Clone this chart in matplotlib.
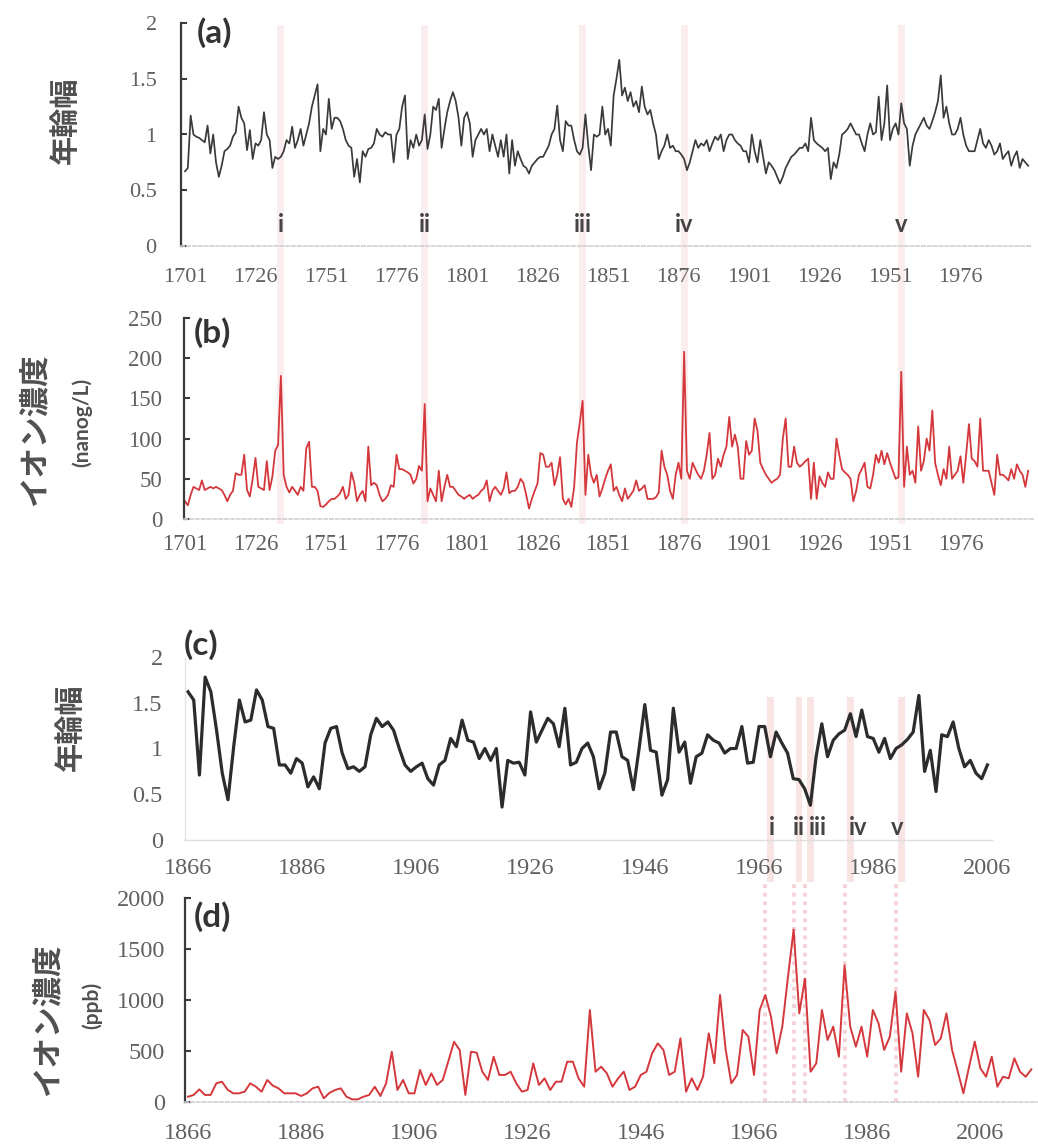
import numpy as np
import matplotlib
matplotlib.use("Agg")
import matplotlib.pyplot as plt

W, H = 1038, 1146

# ---- data ----
years_ab = np.arange(1701, 2001)
ring_ab = [
    0.67, 0.70, 1.17, 1.00, 0.98, 0.97, 0.95, 0.93, 1.08, 0.83,
    1.00, 0.75, 0.62, 0.72, 0.85, 0.87, 0.90, 0.98, 1.02, 1.25,
    1.15, 1.10, 0.86, 1.04, 0.78, 0.92, 0.90, 0.95, 1.20, 1.00,
    0.95, 0.70, 0.80, 0.78, 0.80, 0.85, 0.95, 0.92, 1.07, 0.88,
    0.95, 1.05, 0.90, 1.00, 1.10, 1.25, 1.35, 1.45, 0.85, 1.05,
    1.00, 1.32, 1.05, 1.15, 1.15, 1.12, 1.05, 0.95, 0.90, 0.88,
    0.62, 0.78, 0.57, 0.85, 0.80, 0.87, 0.88, 0.92, 1.05, 1.00,
    0.98, 1.02, 1.00, 1.00, 0.75, 1.00, 1.05, 1.25, 1.35, 0.78,
    0.95, 0.88, 1.00, 0.90, 0.95, 1.18, 0.87, 1.00, 1.25, 1.22,
    1.32, 0.88, 1.05, 1.20, 1.30, 1.38, 1.30, 1.15, 0.90, 1.15,
    1.20, 1.10, 0.80, 0.95, 1.00, 1.05, 1.00, 1.05, 0.85, 1.00,
    0.90, 0.80, 0.95, 0.80, 1.00, 0.65, 0.95, 0.72, 0.85, 0.78,
    0.72, 0.70, 0.65, 0.72, 0.75, 0.78, 0.80, 0.80, 0.85, 0.90,
    1.00, 1.05, 1.26, 0.95, 0.85, 1.12, 1.08, 1.08, 0.95, 0.85,
    0.82, 0.88, 1.18, 0.90, 0.68, 1.00, 0.98, 1.00, 1.25, 1.00,
    1.05, 0.90, 1.35, 1.50, 1.67, 1.35, 1.42, 1.30, 1.38, 1.25,
    1.30, 1.20, 1.43, 1.25, 1.18, 1.22, 1.10, 1.00, 0.78, 0.85,
    0.90, 1.00, 0.88, 0.90, 0.85, 0.85, 0.82, 0.78, 0.68, 0.75,
    0.85, 0.95, 0.88, 0.92, 0.90, 0.95, 0.85, 0.92, 0.98, 0.95,
    1.00, 0.85, 0.95, 1.00, 1.00, 0.95, 0.92, 0.90, 0.85, 0.85,
    0.75, 1.00, 0.85, 0.75, 0.95, 0.80, 0.65, 0.75, 0.72, 0.68,
    0.62, 0.56, 0.62, 0.70, 0.75, 0.80, 0.82, 0.85, 0.88, 0.88,
    0.92, 0.85, 1.15, 0.95, 0.92, 0.90, 0.88, 0.85, 0.88, 0.60,
    0.75, 0.70, 0.82, 1.00, 1.02, 1.05, 1.10, 1.05, 1.00, 1.00,
    0.92, 0.85, 1.00, 1.10, 1.00, 1.02, 1.34, 0.95, 1.10, 1.44,
    0.95, 1.05, 1.10, 1.00, 1.28, 1.10, 1.05, 0.72, 0.90, 1.00,
    1.05, 1.10, 1.15, 1.08, 1.05, 1.12, 1.20, 1.30, 1.53, 1.15,
    1.25, 1.10, 1.00, 1.00, 1.05, 1.15, 1.00, 0.90, 0.85, 0.85,
    0.85, 0.95, 1.05, 0.92, 0.88, 0.95, 0.90, 0.82, 0.85, 0.92,
    0.78, 0.82, 0.85, 0.72, 0.80, 0.85, 0.70, 0.78, 0.75, 0.72,
]
ion_ab = [
    22, 17, 30, 40, 38, 36, 48, 36, 38, 40,
    38, 40, 38, 36, 30, 22, 30, 35, 57, 55,
    55, 80, 36, 28, 50, 76, 40, 38, 36, 72,
    36, 53, 85, 92, 178, 55, 40, 33, 40, 35,
    30, 40, 35, 88, 96, 40, 40, 35, 16, 15,
    18, 22, 25, 25, 28, 32, 40, 25, 30, 58,
    45, 22, 30, 35, 22, 90, 42, 45, 42, 30,
    22, 25, 30, 42, 40, 80, 62, 62, 60, 58,
    55, 44, 50, 66, 60, 143, 22, 38, 30, 22,
    60, 22, 40, 55, 40, 40, 35, 30, 28, 25,
    28, 30, 25, 28, 30, 35, 38, 48, 22, 35,
    40, 35, 30, 38, 58, 32, 35, 35, 40, 50,
    45, 30, 13, 25, 35, 44, 82, 80, 65, 65,
    70, 42, 55, 77, 25, 18, 25, 15, 40, 95,
    120, 147, 30, 80, 55, 45, 55, 28, 38, 50,
    60, 68, 35, 40, 30, 22, 38, 25, 30, 35,
    48, 35, 38, 42, 25, 25, 25, 27, 33, 85,
    65, 55, 35, 25, 55, 70, 50, 208, 60, 50,
    70, 62, 55, 50, 60, 80, 107, 50, 55, 75,
    65, 80, 90, 127, 90, 105, 90, 50, 50, 97,
    80, 85, 125, 110, 70, 62, 55, 50, 45, 48,
    50, 55, 100, 125, 65, 65, 90, 70, 65, 68,
    72, 75, 25, 70, 25, 53, 45, 40, 58, 50,
    50, 100, 80, 62, 58, 55, 50, 22, 35, 55,
    62, 70, 40, 38, 55, 80, 70, 85, 68, 82,
    70, 60, 50, 52, 183, 40, 90, 55, 60, 45,
    115, 60, 72, 100, 85, 135, 70, 55, 42, 62,
    50, 90, 50, 55, 60, 78, 45, 80, 118, 75,
    72, 65, 125, 60, 60, 60, 45, 30, 80, 55,
    55, 52, 48, 62, 50, 68, 60, 55, 40, 60,
]

years_c = np.arange(1866, 2007)
ring_c = [
    1.62, 1.53, 0.71, 1.78, 1.62, 1.20, 0.73, 0.44, 1.02, 1.53,
    1.29, 1.31, 1.64, 1.53, 1.24, 1.22, 0.82, 0.82, 0.73, 0.89,
    0.84, 0.58, 0.69, 0.56, 1.06, 1.22, 1.24, 0.95, 0.78, 0.80,
    0.75, 0.80, 1.15, 1.33, 1.24, 1.29, 1.20, 1.00, 0.82, 0.75,
    0.80, 0.84, 0.67, 0.60, 0.82, 0.87, 1.11, 1.02, 1.31, 1.09,
    1.07, 0.89, 1.00, 0.87, 1.00, 0.36, 0.87, 0.84, 0.85, 0.71,
    1.40, 1.07, 1.20, 1.33, 1.27, 1.02, 1.44, 0.82, 0.85, 1.00,
    1.06, 0.91, 0.56, 0.73, 1.18, 1.18, 0.91, 0.87, 0.55, 1.00,
    1.48, 0.98, 0.96, 0.49, 0.66, 1.44, 0.96, 1.07, 0.62, 0.91,
    0.95, 1.15, 1.09, 1.06, 0.95, 1.00, 1.00, 1.24, 0.84, 0.85,
    1.24, 1.24, 0.91, 1.18, 1.06, 0.95, 0.67, 0.66, 0.56, 0.38,
    0.91, 1.27, 0.91, 1.09, 1.16, 1.20, 1.38, 1.13, 1.42, 1.13,
    1.11, 0.96, 1.11, 0.89, 1.00, 1.04, 1.10, 1.18, 1.58, 0.75,
    0.98, 0.53, 1.15, 1.13, 1.29, 1.00, 0.80, 0.87, 0.73, 0.67,
    0.82,
]

years_d = np.arange(1866, 2016)
ion_d = [
    52, 69, 124, 69, 69, 183, 199, 120, 85, 85,
    101, 183, 150, 101, 216, 160, 134, 85, 85, 85,
    59, 85, 134, 150, 36, 90, 118, 134, 52, 26,
    26, 52, 69, 150, 59, 183, 493, 118, 216, 85,
    85, 314, 167, 281, 167, 216, 400, 590, 510, 69,
    493, 484, 297, 216, 444, 265, 265, 297, 183, 101,
    118, 379, 167, 232, 118, 199, 199, 395, 395, 232,
    150, 902, 297, 346, 281, 150, 232, 297, 118, 150,
    265, 297, 477, 575, 510, 265, 297, 624, 101, 232,
    118, 248, 673, 379, 1049, 510, 183, 265, 706, 641,
    265, 902, 1049, 837, 477, 739, 1226, 1690, 869, 1209,
    297, 379, 902, 608, 739, 444, 1340, 739, 543, 739,
    444, 902, 771, 510, 641, 1082, 297, 869, 673, 248,
    902, 804, 559, 624, 869, 510, 300, 85, 346, 592,
    330, 248, 444, 150, 248, 232, 428, 297, 248, 320,
]

events_ab = [1735, 1786, 1842, 1878, 1955]
events_cd = [1968, 1973, 1975, 1982, 1991]
roman = ["i", "ii", "iii", "iv", "v"]

xt_ab = np.arange(1701, 1977, 25)
xt_cd = np.arange(1866, 2007, 20)

plt.rcParams["font.family"] = ["Liberation Serif"]
fig = plt.figure(figsize=(W / 100, H / 100), dpi=100)

TICK = "#606060"
DARK = "#3a3a3a"
RED = "#d5383c"
BAND = "#fbeded"
LABEL = "#505050"
CJK = ["Noto Sans CJK JP", "DejaVu Sans"]


def px_axes(l, r, t, b, yr0, px0, ppy):
    # axes placed by pixel box; x mapping given as year at px0 and px per year
    ax = fig.add_axes([l / W, 1 - b / H, (r - l) / W, (b - t) / H])
    ax.set_xlim(yr0 + (l - px0) / ppy, yr0 + (r - px0) / ppy)
    return ax


def style(ax, ylim, yticks, ylabels, xticks, xpad, ypad, fs, dark_spine=True):
    ax.set_facecolor("none")
    ax.set_ylim(*ylim)
    ax.set_yticks(yticks)
    ax.set_yticklabels(ylabels)
    ax.set_xticks(xticks)
    ax.set_xticklabels([str(x) for x in xticks])
    ax.spines["top"].set_visible(False)
    ax.spines["right"].set_visible(False)
    ax.tick_params(axis="x", length=0, pad=xpad, labelsize=fs, labelcolor=TICK)
    if dark_spine:
        ax.spines["left"].set_color(DARK)
        ax.spines["left"].set_linewidth(1.6)
        ax.spines["bottom"].set_color("#cfcfcf")
        ax.spines["bottom"].set_linestyle((0, (2, 1.5)))
        ax.spines["bottom"].set_linewidth(1.2)
        ax.tick_params(axis="y", direction="in", length=4.5, width=1.5,
                       color=DARK, pad=ypad, labelsize=fs, labelcolor=TICK)
    else:
        ax.spines["left"].set_color("#e4e4e4")
        ax.spines["left"].set_linewidth(1.0)
        ax.spines["bottom"].set_color("#dedede")
        ax.spines["bottom"].set_linewidth(1.0)
        ax.tick_params(axis="y", length=0, pad=ypad, labelsize=fs, labelcolor=TICK)


# ---- pink bands behind (a) and (b) ----
band_ab = px_axes(181, 1031, 25, 524, 1701, 185, 2.82)
band_ab.set_ylim(0, 1)
band_ab.axis("off")
band_ab.set_zorder(0)
for e in events_ab:
    band_ab.axvspan(e - 1.2, e + 1.2, color=BAND, lw=0)

# ---- (a) ----
ax_a = px_axes(181, 1031, 23, 246, 1701, 185, 2.82)
ax_a.set_zorder(1)
ax_a.plot(years_ab, ring_ab, color=DARK, lw=1.25)
style(ax_a, (0, 2), [0, 0.5, 1, 1.5, 2], ["0", "0.5", "1", "1.5", "2"],
      xt_ab, 16, 17.5, 16)
for e, r in zip(events_ab, roman):
    ax_a.text(e, 0.19, r, ha="center", va="center", fontsize=17,
              family="Lato", weight="bold", color="#444444")

# ---- (b) ----
ax_b = px_axes(184, 1033, 318, 519, 1701, 185, 2.82)
ax_b.set_zorder(1)
ax_b.plot(years_ab, ion_ab, color=RED, lw=1.3)
style(ax_b, (0, 250), [0, 50, 100, 150, 200, 250],
      ["0", "50", "100", "150", "200", "250"], xt_ab, 10.5, 15.5, 16.5)

# ---- (c) ----
ax_c = px_axes(185, 992, 657, 840, 1866, 188, 5.71)
ax_c.set_zorder(1)
for e in events_cd:
    ax_c.axvspan(e - 0.6, e + 0.6, ymin=-0.23, ymax=0.78, color="#f9e4e4",
                 lw=0, clip_on=False, zorder=0)
ax_c.plot(years_c, ring_c, color="#2c2c2c", lw=2.3, zorder=2)
style(ax_c, (0, 2), [0, 0.5, 1, 1.5, 2], ["0", "0.5", "1", "1.5", "2"],
      xt_cd, 13, 16, 17.5, dark_spine=False)
shift_c = [0.2, 0.0, 1.3, 1.3, -0.8]
for e, r, s in zip(events_cd, roman, shift_c):
    ax_c.text(e + s, 0.14, r, ha="center", va="center", fontsize=17,
              family="Lato", weight="bold", color="#444444")

# ---- (d) ----
ax_d = px_axes(185, 1038, 898, 1102, 1866, 188, 5.66)
ax_d.set_zorder(1)
for e in events_cd:
    ax_d.axvline(e, ymin=0, ymax=1.08, color="#f4d2d7", lw=2.8,
                 ls=(0, (1, 1.2)), clip_on=False, zorder=0)
ax_d.plot(years_d, ion_d, color=RED, lw=1.4, zorder=2)
style(ax_d, (0, 2000), [0, 500, 1000, 1500, 2000],
      ["0", "500", "1000", "1500", "2000"], xt_cd, 15, 14.5, 17.5)

# ---- panel letters ----
for txt, x, y in [("(a)", 197, 33), ("(b)", 194, 333), ("(c)", 184, 645), ("(d)", 194, 917)]:
    fig.text(x / W, 1 - y / H, txt, ha="left", va="center", fontsize=24,
             family="Lato", weight="bold", color="#333333")

# ---- axis titles ----
fig.text(65 / W, 1 - 120 / H, "年輪幅", rotation=90, ha="center", va="center",
         fontsize=21, family=CJK, weight="bold", color=LABEL)
fig.text(34 / W, 1 - 430 / H, "イオン濃度", rotation=90, ha="center", va="center",
         fontsize=22, family=CJK, weight="bold", color=LABEL)
fig.text(82 / W, 1 - 422 / H, "(nanog/L)", rotation=90, ha="center", va="center",
         fontsize=15, family="Lato", weight="bold", color=LABEL)
fig.text(70 / W, 1 - 727 / H, "年輪幅", rotation=90, ha="center", va="center",
         fontsize=21, family=CJK, weight="bold", color=LABEL)
fig.text(47 / W, 1 - 1020 / H, "イオン濃度", rotation=90, ha="center", va="center",
         fontsize=22, family=CJK, weight="bold", color=LABEL)
fig.text(92 / W, 1 - 1005 / H, "(ppb)", rotation=90, ha="center", va="center",
         fontsize=15, family="Lato", weight="bold", color=LABEL)

fig.savefig("out.png", dpi=100, facecolor="white")
